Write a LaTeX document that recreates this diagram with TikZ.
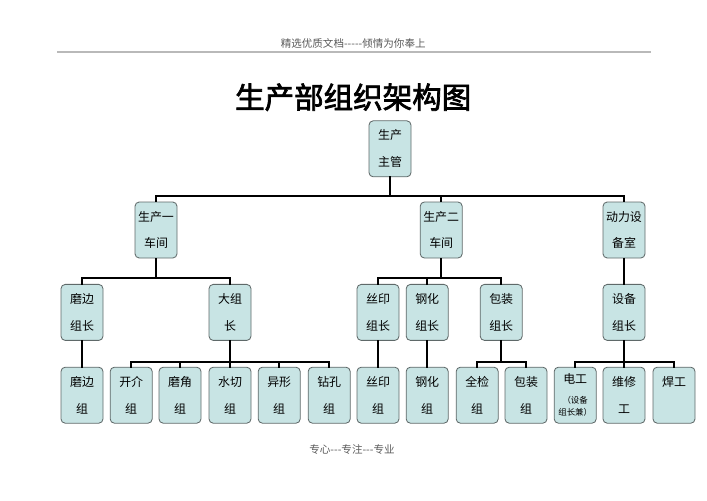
\documentclass[tikz,border=0pt]{standalone}
\usepackage{fontspec}
\newfontfamily\cjk{Noto Sans CJK SC}
\newfontfamily\cjktitle[FakeBold=2.5]{Noto Sans CJK SC}
\usepackage{tikz}
\usetikzlibrary{positioning,calc}
\definecolor{boxfill}{RGB}{200,228,228}
\definecolor{boxline}{RGB}{95,105,105}

\begin{document}
\begin{tikzpicture}[
  orgbox/.style={rectangle, rounded corners=3pt, draw=boxline, line width=0.6pt, fill=boxfill, minimum width=1.05cm, minimum height=1.40cm, inner sep=0pt, align=center, font={\cjk\fontsize{8.5}{19}\selectfont}},
  orgedge/.style={line width=1.3pt, line cap=rect},
  pagetext/.style={font={\cjk\fontsize{7.5}{9}\selectfont}, text=gray!70!black, inner sep=0pt}
]
\useasboundingbox (0,0) rectangle (17.675,-12.50);
\node[pagetext] (head) at (8.83,-1.08) {精选优质文档-----倾情为你奉上};
\coordinate (hl) at (1.43,-1.30);
\coordinate (hr) at (16.28,-1.30);
\draw[gray!55, line width=0.8pt] (hl) -- (hr);
\node[font={\cjktitle\fontsize{21}{24}\selectfont}, inner sep=0pt] (title) at (8.83,-2.43) {生产部组织架构图};
\node[pagetext] (foot) at (8.80,-11.23) {专心---专注---专业};

\node[orgbox] (v0) at (9.75,-3.72) {生产\\主管};

\node[orgbox] (w1) at (3.90,-5.75) {生产一\\车间};
\node[orgbox] (w2) at (11.03,-5.75) {生产二\\车间};
\node[orgbox] (w3) at (15.60,-5.75) {动力设\\备室};

\node[orgbox] (g1) at (2.05,-7.81) {磨边\\组长};
\node[orgbox] (g2) at (5.75,-7.81) {大组\\长};
\node[orgbox] (g3) at (9.45,-7.81) {丝印\\组长};
\node[orgbox] (g4) at (10.68,-7.81) {钢化\\组长};
\node[orgbox] (g5) at (12.53,-7.81) {包装\\组长};
\node[orgbox] (g6) at (15.60,-7.81) {设备\\组长};

\node[orgbox] (t1) at (2.05,-9.88) {磨边\\组};
\node[orgbox] (t2) at (3.28,-9.88) {开介\\组};
\node[orgbox] (t3) at (4.50,-9.88) {磨角\\组};
\node[orgbox] (t4) at (5.75,-9.88) {水切\\组};
\node[orgbox] (t5) at (6.98,-9.88) {异形\\组};
\node[orgbox] (t6) at (8.23,-9.88) {钻孔\\组};
\node[orgbox] (t7) at (9.45,-9.88) {丝印\\组};
\node[orgbox] (t8) at (10.68,-9.88) {钢化\\组};
\node[orgbox] (t9) at (11.93,-9.88) {全检\\组};
\node[orgbox] (t10) at (13.15,-9.88) {包装\\组};
\node[orgbox] (t11) at (14.38,-9.88) {电工\\[-5pt]{\fontsize{6}{8}\selectfont （设备}\\[-10.5pt]{\fontsize{6}{8}\selectfont 组长兼）}};
\node[orgbox] (t12) at (15.60,-9.88) {维修\\工};
\node[orgbox] (t13) at (16.85,-9.88) {焊工\\\mbox{}};

\coordinate (b0) at (9.75,-4.90);
\coordinate (b1) at (3.90,-6.95);
\coordinate (b2) at (11.03,-6.95);
\coordinate (b3) at (5.75,-9.05);
\coordinate (b4) at (12.53,-9.05);
\coordinate (b5) at (15.60,-9.05);

\draw[orgedge] (v0) -- (b0);
\draw[orgedge] (b0) -| (w1);
\draw[orgedge] (b0) -| (w2);
\draw[orgedge] (b0) -| (w3);
\draw[orgedge] (w1) -- (b1);
\draw[orgedge] (b1) -| (g1);
\draw[orgedge] (b1) -| (g2);
\draw[orgedge] (w2) -- (b2);
\draw[orgedge] (b2) -| (g3);
\draw[orgedge] (b2) -| (g4);
\draw[orgedge] (b2) -| (g5);
\draw[orgedge] (w3) -- (g6);
\draw[orgedge] (g1) -- (t1);
\draw[orgedge] (g2) -- (b3);
\draw[orgedge] (b3) -| (t2);
\draw[orgedge] (b3) -| (t3);
\draw[orgedge] (b3) -- (t4);
\draw[orgedge] (b3) -| (t5);
\draw[orgedge] (b3) -| (t6);
\draw[orgedge] (g3) -- (t7);
\draw[orgedge] (g4) -- (t8);
\draw[orgedge] (g5) -- (b4);
\draw[orgedge] (b4) -| (t9);
\draw[orgedge] (b4) -| (t10);
\draw[orgedge] (g6) -- (b5);
\draw[orgedge] (b5) -| (t11);
\draw[orgedge] (b5) -- (t12);
\draw[orgedge] (b5) -| (t13);
\end{tikzpicture}
\end{document}
